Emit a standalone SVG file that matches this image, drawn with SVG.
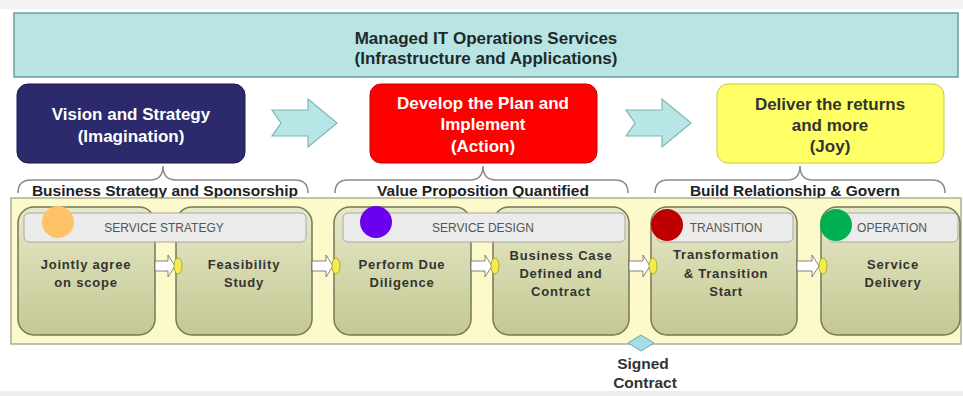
<svg xmlns="http://www.w3.org/2000/svg" width="963" height="396" viewBox="0 0 963 396">
<defs>
<linearGradient id="olive" x1="0" y1="0" x2="0" y2="1">
<stop offset="0" stop-color="#e6e9c8"/>
<stop offset="1" stop-color="#c4c893"/>
</linearGradient>
<style>
.t{font-family:"Liberation Sans",Arial,sans-serif;font-weight:bold;text-anchor:middle}
.hdr{font-family:"Liberation Sans",Arial,sans-serif;font-size:12px;fill:#555;text-anchor:middle}
.proc{fill:url(#olive);stroke:#77775a;stroke-width:1.5}
.bar{fill:#ebebeb;stroke:#a8a8a0;stroke-width:1}
.pt{font-family:"Liberation Sans",Arial,sans-serif;font-weight:bold;font-size:13px;fill:#333;text-anchor:middle;letter-spacing:0.8px}
.brace{fill:none;stroke:#8a8a8a;stroke-width:1.5}
.bigarrow{fill:#b8e6e6;stroke:#7fb5b5;stroke-width:1.2}
.wa{fill:#fff;stroke:#666;stroke-width:0.8}
.ell{fill:#f3ec4c;stroke:#9a9a30;stroke-width:0.8}
</style>
</defs>
<rect x="0" y="0" width="963" height="9" fill="#f2f2f2"/>
<rect x="0" y="391" width="963" height="5" fill="#eeeeee"/>

<g id="banner">
<rect x="14" y="13" width="944" height="64" fill="#b8e4e4" stroke="#6a9e9e" stroke-width="1.5"/>
<text class="t" x="486" y="44" font-size="17" fill="#1e2a2a">Managed IT Operations Services</text>
<text class="t" x="486" y="64" font-size="17" fill="#1e2a2a">(Infrastructure and Applications)</text>
</g>

<g id="vision">
<rect x="17" y="84" width="228" height="79" rx="11" fill="#2c2a6c" stroke="#1c1a50" stroke-width="1"/>
<text class="t" x="131" y="120" font-size="17" fill="#fff">Vision and Strategy</text>
<text class="t" x="131" y="142" font-size="17" fill="#fff">(Imagination)</text>
</g>
<g id="develop">
<rect x="370" y="84" width="227" height="79" rx="11" fill="#ff0000" stroke="#c00000" stroke-width="1"/>
<text class="t" x="483" y="109" font-size="17" fill="#fff">Develop the Plan and</text>
<text class="t" x="483" y="130" font-size="17" fill="#fff">Implement</text>
<text class="t" x="483" y="152" font-size="17" fill="#fff">(Action)</text>
</g>
<g id="deliver">
<rect x="717" y="84" width="227" height="79" rx="11" fill="#ffff66" stroke="#c8c840" stroke-width="1"/>
<text class="t" x="830" y="110" font-size="17" fill="#333">Deliver the returns</text>
<text class="t" x="830" y="131" font-size="17" fill="#333">and more</text>
<text class="t" x="830" y="152" font-size="17" fill="#333">(Joy)</text>
</g>

<g id="connectors">
<path class="bigarrow" d="M272,110 L308,110 L308,99 L337,123 L308,147 L308,136 L272,136 L281,123 Z"/>
<path class="bigarrow" d="M626,110 L662,110 L662,99 L691,123 L662,147 L662,136 L626,136 L635,123 Z"/>
<path class="brace" d="M18,193 Q18,180 31,180 L150,180 Q163,180 163,166 Q163,180 176,180 L295,180 Q308,180 308,193"/>
<path class="brace" d="M335,193 Q335,180 348,180 L470,180 Q483,180 483,166 Q483,180 496,180 L615,180 Q628,180 628,193"/>
<path class="brace" d="M655,193 Q655,180 668,180 L787,180 Q800,180 800,166 Q800,180 813,180 L932,180 Q945,180 945,193"/>
</g>

<g id="braceLabels">
<text class="t" x="165" y="196" font-size="15.5" fill="#222">Business Strategy and Sponsorship</text>
<text class="t" x="483" y="196" font-size="15.5" fill="#222">Value Proposition Quantified</text>
<text class="t" x="795" y="196" font-size="15.5" fill="#222">Build Relationship &amp; Govern</text>
</g>

<g id="panel">
<rect x="11" y="198" width="950" height="146" fill="#fcf9cb" stroke="#9a9a82" stroke-width="1.2"/>
</g>

<g id="box1"><rect class="proc" x="18" y="207" width="137" height="128" rx="16"/>
<text class="pt" x="86" y="269">Jointly agree</text><text class="pt" x="86" y="287">on scope</text></g>
<g id="box2"><rect class="proc" x="176" y="207" width="136" height="128" rx="16"/>
<text class="pt" x="244" y="269">Feasibility</text><text class="pt" x="244" y="287">Study</text></g>
<g id="box3"><rect class="proc" x="334" y="207" width="137" height="128" rx="16"/>
<text class="pt" x="402" y="269">Perform Due</text><text class="pt" x="402" y="287">Diligence</text></g>
<g id="box4"><rect class="proc" x="493" y="207" width="136" height="128" rx="16"/>
<text class="pt" x="561" y="260">Business Case</text><text class="pt" x="561" y="278">Defined and</text><text class="pt" x="561" y="296">Contract</text></g>
<g id="box5"><rect class="proc" x="651" y="207" width="146" height="128" rx="16"/>
<text class="pt" x="726" y="259">Transformation</text><text class="pt" x="726" y="278">&amp; Transition</text><text class="pt" x="726" y="296">Start</text></g>
<g id="box6"><rect class="proc" x="821" y="207" width="139" height="128" rx="16"/>
<text class="pt" x="893" y="269">Service</text><text class="pt" x="893" y="287">Delivery</text></g>

<g id="strategyHeader"><rect class="bar" x="24" y="213" width="282" height="29" rx="5"/>
<text class="hdr" x="164" y="232">SERVICE STRATEGY</text>
<circle cx="58" cy="222" r="16" fill="#ffc266"/></g>
<g id="designHeader"><rect class="bar" x="343" y="213" width="282" height="29" rx="5"/>
<text class="hdr" x="483" y="232">SERVICE DESIGN</text>
<circle cx="376" cy="222" r="16" fill="#6a00ee"/></g>
<g id="transitionHeader"><rect class="bar" x="657" y="213" width="136" height="29" rx="5"/>
<text class="hdr" x="726" y="232">TRANSITION</text>
<circle cx="667" cy="225" r="16" fill="#c00000"/></g>
<g id="operationHeader"><rect class="bar" x="828" y="213" width="130" height="29" rx="5"/>
<text class="hdr" x="892" y="232">OPERATION</text>
<circle cx="836" cy="225" r="16" fill="#00b050"/></g>

<g id="flow">
<path class="wa" d="M155,261 L168,261 L168,255 L175,266 L168,277 L168,271 L155,271 Z"/>
<ellipse class="ell" cx="178" cy="266" rx="4" ry="8"/>
<path class="wa" d="M312,261 L326,261 L326,255 L333,266 L326,277 L326,271 L312,271 Z"/>
<ellipse class="ell" cx="336" cy="266" rx="4" ry="8"/>
<path class="wa" d="M471,261 L485,261 L485,255 L492,266 L485,277 L485,271 L471,271 Z"/>
<ellipse class="ell" cx="495" cy="266" rx="4" ry="8"/>
<path class="wa" d="M629,261 L643,261 L643,255 L650,266 L643,277 L643,271 L629,271 Z"/>
<ellipse class="ell" cx="653" cy="266" rx="4" ry="8"/>
<path class="wa" d="M797,261 L812,261 L812,255 L819,266 L812,277 L812,271 L797,271 Z"/>
<ellipse class="ell" cx="823" cy="266" rx="4" ry="8"/>
</g>

<g id="signedContract">
<path d="M641,335 L654,343 L641,351 L628,343 Z" fill="#a8dde6" stroke="#6aa8b0" stroke-width="1"/>
<text class="t" x="643" y="369" font-size="15.5" fill="#333">Signed</text>
<text class="t" x="645" y="388" font-size="15.5" fill="#333">Contract</text>
</g>
</svg>
